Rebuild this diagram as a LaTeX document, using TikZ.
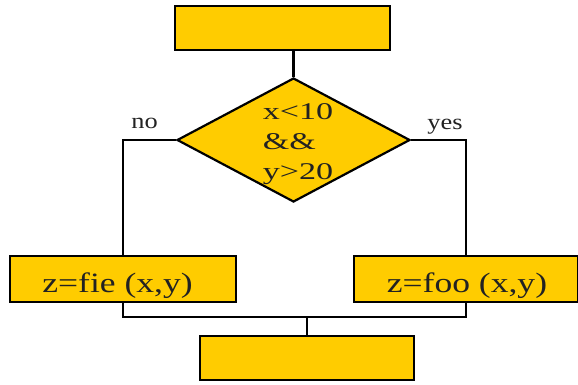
\documentclass[tikz,border=0pt]{standalone}
\usepackage{fontspec}
\setmainfont{Liberation Serif}
\newfontfamily\boxfont[FakeStretch=1.27]{Liberation Serif}
\newfontfamily\diafont[FakeStretch=1.42]{Liberation Serif}
\newfontfamily\lblfont[FakeStretch=1.2]{Liberation Serif}
\usetikzlibrary{shapes.geometric}
\definecolor{gold}{HTML}{FFCC00}
\definecolor{ink}{HTML}{222222}
\tikzset{
  box/.style={draw=black, fill=gold, line width=2.2pt, inner sep=0pt},
  conn/.style={draw=black, line width=2.2pt},
  txt/.style={text=ink, inner sep=0pt, anchor=base},
  lbl/.style={txt, font=\lblfont\fontsize{22}{26}\selectfont},
  big/.style={txt, font=\boxfont\fontsize{28}{32}\selectfont},
  dia/.style={text=ink, inner sep=0pt, align=left, font=\diafont\fontsize{24}{30}\selectfont}
}
\begin{document}
\begin{tikzpicture}[x=1pt,y=-1pt]
\path[use as bounding box] (0,0) rectangle (578,384);
\node[box, minimum width=215pt, minimum height=44pt] (top) at (282.5,28) {};
\node[box, diamond, minimum width=233pt, minimum height=124pt] (d) at (293.5,140) {};
\node[dia] (dt) at (298,144) {x<10\\\&\&\\y>20};
\node[box, minimum width=226pt, minimum height=46pt] (fie) at (123,279) {};
\node[big] (fiet) at (117.5,292) {z=fie (x,y)};
\node[box, minimum width=224pt, minimum height=46pt] (foo) at (466,279) {};
\node[big] (foot) at (467,292) {z=foo (x,y)};
\node[box, minimum width=214pt, minimum height=44pt] (bot) at (307,358) {};
\node[lbl] (no) at (144.5,128) {no};
\node[lbl] (yes) at (445,129) {yes};
\coordinate (j) at (307,317);
\draw[conn] (d.north |- top.south) -- (d.north);
\draw[conn] (d.west) -| (fie.north);
\draw[conn] (d.east) -| (foo.north);
\draw[conn] (fie.south) |- (j) -| (foo.south);
\draw[conn] (j) -- (bot.north);
\end{tikzpicture}
\end{document}
